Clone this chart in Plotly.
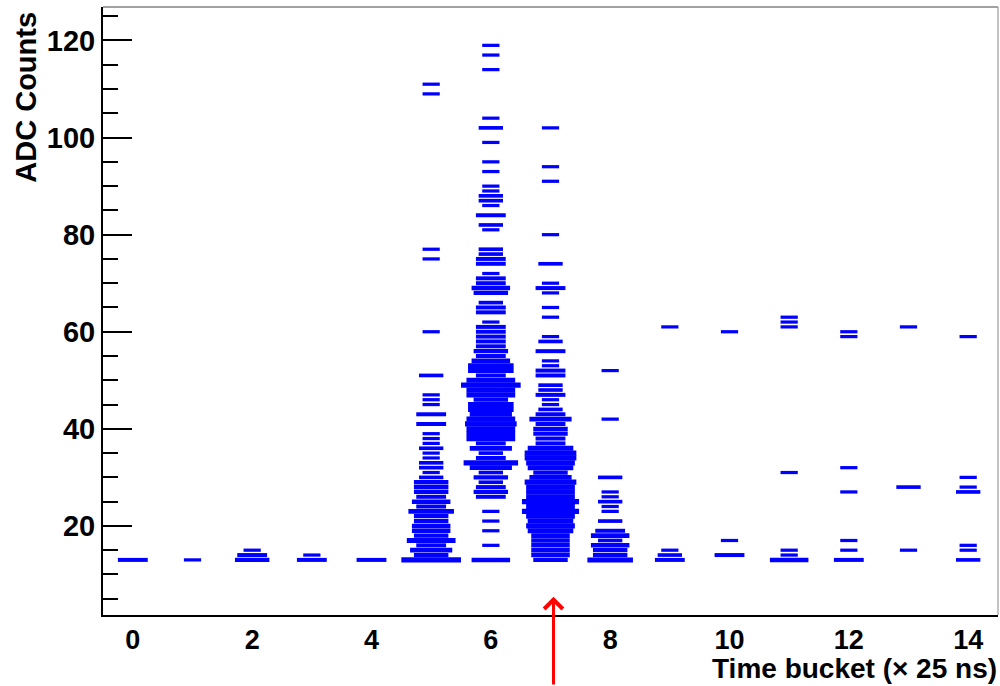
import numpy as np
import plotly.graph_objects as go

# Occupancy per time bucket: ADC value -> number of entries
time_buckets = list(range(15))

adc_t0 = [13]
cnt_t0 = [3]
adc_t1 = [13]
cnt_t1 = [1]
adc_t2 = [13, 14, 15]
cnt_t2 = [4, 3, 1]
adc_t3 = [13, 14]
cnt_t3 = [3, 1]
adc_t4 = [13]
cnt_t4 = [3]
adc_t5 = [111, 109, 77, 75, 60, 51, 47, 46, 45, 43, 41, 39, 38, 37, 36, 35, 34, 33, 32, 31,
          30, 29, 28, 27, 26, 25, 24, 23, 22, 21, 20, 19, 18, 17, 16, 15, 14, 13]
cnt_t5 = [1, 1, 1, 1, 1, 2, 1, 1, 1, 3, 3, 1, 1, 1, 2, 1, 1, 2, 2, 1,
          2, 4, 4, 4, 3, 5, 3, 7, 4, 4, 5, 5, 4, 8, 3, 6, 4, 12]
adc_t6 = [119, 117, 114, 104, 102, 99, 95, 93, 90, 89, 88, 87, 86, 84, 82, 81, 77, 76, 75, 74,
          72, 71, 70, 69, 68, 66, 65, 64, 62, 61, 60, 59, 58, 57, 56, 55, 54, 53, 52, 51,
          50, 49, 48, 47, 46, 45, 44, 43, 42, 41, 40, 39, 38, 37, 36, 35, 34, 33, 32, 31,
          30, 29, 28, 27, 26, 23, 21, 19, 16, 13]
cnt_t6 = [1, 1, 1, 1, 2, 1, 1, 1, 1, 1, 2, 2, 1, 3, 2, 1, 2, 2, 3, 3,
          1, 3, 3, 5, 4, 2, 3, 3, 1, 3, 3, 3, 3, 3, 4, 3, 5, 7, 7, 3,
          8, 12, 8, 8, 4, 7, 7, 6, 8, 9, 8, 8, 8, 3, 6, 2, 3, 10, 6, 2,
          4, 2, 3, 4, 3, 1, 1, 1, 1, 5]
adc_t7 = [102, 94, 91, 80, 74, 70, 69, 68, 65, 63, 59, 58, 56, 54, 53, 52, 51, 49, 48, 47,
          46, 45, 44, 43, 42, 41, 40, 39, 38, 37, 36, 35, 34, 33, 32, 31, 30, 29, 28, 27,
          26, 25, 24, 23, 22, 21, 20, 19, 18, 17, 16, 15, 14, 13]
cnt_t7 = [1, 1, 1, 1, 2, 1, 3, 1, 1, 1, 1, 2, 3, 1, 1, 3, 3, 2, 2, 3,
          1, 1, 2, 3, 6, 3, 4, 4, 3, 3, 7, 9, 9, 8, 7, 4, 6, 9, 8, 8,
          8, 11, 8, 11, 8, 7, 8, 7, 5, 5, 5, 5, 5, 4]
adc_t8 = [52, 42, 30, 27, 26, 25, 24, 23, 21, 19, 18, 17, 16, 15, 14, 13]
cnt_t8 = [1, 1, 2, 1, 1, 2, 1, 1, 2, 3, 5, 2, 5, 4, 4, 7]
adc_t9 = [61, 15, 14, 13]
cnt_t9 = [1, 1, 2, 3]
adc_t10 = [60, 17, 14]
cnt_t10 = [1, 1, 3]
adc_t11 = [63, 62, 61, 31, 15, 14, 13]
cnt_t11 = [1, 1, 1, 1, 1, 1, 5]
adc_t12 = [60, 59, 32, 27, 17, 15, 13]
cnt_t12 = [1, 1, 1, 1, 1, 1, 3]
adc_t13 = [61, 28, 15]
cnt_t13 = [1, 2, 1]
adc_t14 = [59, 30, 28, 27, 16, 15, 13]
cnt_t14 = [1, 1, 1, 2, 1, 1, 2]

x_ticks = [0, 2, 4, 6, 8, 10, 12, 14]
y_ticks = [20, 40, 60, 80, 100, 120]

adc_cols = [adc_t0, adc_t1, adc_t2, adc_t3, adc_t4, adc_t5, adc_t6, adc_t7,
            adc_t8, adc_t9, adc_t10, adc_t11, adc_t12, adc_t13, adc_t14]
cnt_cols = [cnt_t0, cnt_t1, cnt_t2, cnt_t3, cnt_t4, cnt_t5, cnt_t6, cnt_t7,
            cnt_t8, cnt_t9, cnt_t10, cnt_t11, cnt_t12, cnt_t13, cnt_t14]

# Box-style 2D histogram: box size scales with sqrt of the cell content
zmax = max(max(c) for c in cnt_cols)
ys, ws, bases, hs = [], [], [], []
for tb, adcs, cnts in zip(time_buckets, adc_cols, cnt_cols):
    for a, c in zip(adcs, cnts):
        frac = np.sqrt(c / zmax)
        ys.append(a)
        ws.append(frac)
        bases.append(tb - frac / 2)
        hs.append(min(1.08, 0.45 + 0.75 * frac))

fig = go.Figure()
fig.add_trace(go.Bar(
    y=ys, x=ws, base=bases, width=hs, orientation="h",
    marker=dict(color="#0000ff", line=dict(width=0)),
    hoverinfo="skip", showlegend=False,
))

font_family = "Liberation Sans, Arial, Helvetica, sans-serif"

fig.update_layout(
    width=1000, height=686,
    margin=dict(l=103, r=2, t=7, b=71),
    paper_bgcolor="white", plot_bgcolor="white",
    barmode="overlay",
    font=dict(family=font_family, color="black"),
    xaxis=dict(
        range=[-0.5, 14.5], tickvals=x_ticks, ticks="", showgrid=False, zeroline=False,
        showline=True, linecolor="black", linewidth=2, ticklabelstandoff=0,
        tickfont=dict(size=27, weight="bold", family=font_family),
    ),
    yaxis=dict(
        range=[1.65, 126.9], tickvals=y_ticks, ticks="inside", ticklen=29, tickwidth=1.5,
        tickcolor="black", showgrid=False, zeroline=False,
        showline=True, linecolor="black", linewidth=2,
        tickfont=dict(size=29, weight="bold", family=font_family),
        minor=dict(dtick=5, tick0=0, ticks="inside", ticklen=15, tickwidth=1.5, tickcolor="black"),
    ),
    shapes=[
        dict(type="line", xref="paper", yref="paper", x0=0, x1=1, y0=1, y1=1,
             line=dict(color="#444", width=1)),
        dict(type="line", xref="paper", yref="paper", x0=1, x1=1, y0=0, y1=1,
             line=dict(color="#888", width=1)),
    ],
    annotations=[
        dict(text="<b>ADC Counts</b>", textangle=-90, xref="paper", yref="paper",
             x=-0.087, y=0.995, xanchor="center", yanchor="top", showarrow=False,
             font=dict(size=29, family=font_family)),
        dict(text="<b>Time bucket (× 25 ns)</b>", xref="paper", yref="paper",
             x=1.0, y=-0.1145, xanchor="right", yanchor="bottom", showarrow=False,
             borderpad=0, font=dict(size=28, family=font_family)),
        dict(text="", x=7.05, y=0.03, xref="x", yref="paper", showarrow=True,
             ax=0, ay=92, arrowhead=4, arrowsize=1.2, arrowwidth=3, arrowcolor="red"),
    ],
)

fig.write_html("out.html")
